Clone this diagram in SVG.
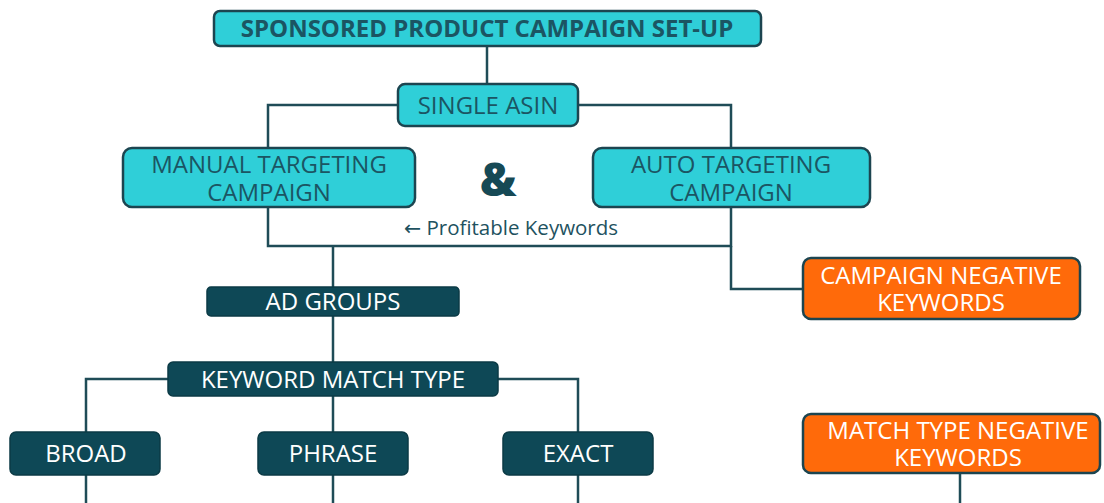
<svg xmlns="http://www.w3.org/2000/svg" width="1104" height="503" viewBox="0 0 1104 503">
<style>
.cy{fill:#2fcfd8;stroke:#1c4550;stroke-width:2.5}
.dk{fill:#0e4856;stroke:#0b3a45;stroke-width:1.5}
.or{fill:#ff6a0a;stroke:#1c4550;stroke-width:2.5}
text{font-family:"Open Sans","Liberation Sans",sans-serif;text-anchor:middle}
.tc{fill:#1b5563;font-size:24px}
.tw{fill:#ffffff;font-size:24px}
.con{fill:none;stroke:#1f4c57;stroke-width:2.5}
</style>
<rect width="1104" height="503" fill="#ffffff"/>
<g id="connectors" class="con">
<path d="M487 46V84"/>
<path d="M398 105H268V148"/>
<path d="M578 105H731V148"/>
<path d="M268 207V246H731V207"/>
<path d="M731 246V289H803"/>
<path d="M333 246V287"/>
<path d="M333 316V362"/>
<path d="M168 379H86V432"/>
<path d="M498 379H578V432"/>
<path d="M333 396V432"/>
<path d="M86 475V503"/>
<path d="M333 475V503"/>
<path d="M578 475V503"/>
<path d="M960 473V503"/>
</g>
<g id="title"><rect class="cy" x="214" y="11" width="547" height="35" rx="6"/><text class="tc" x="487" y="37" font-weight="700" style="font-size:24px">SPONSORED PRODUCT CAMPAIGN SET-UP</text></g>
<g id="single-asin"><rect class="cy" x="398" y="84" width="180" height="42" rx="7"/><text class="tc" x="488" y="114">SINGLE ASIN</text></g>
<g id="manual"><rect class="cy" x="123" y="148" width="292" height="59" rx="9"/><text class="tc"><tspan x="269" y="173">MANUAL TARGETING</tspan><tspan x="269" y="201">CAMPAIGN</tspan></text></g>
<g id="amp"><text x="498" y="196" style="font-size:46px;font-weight:800;fill:#164955">&amp;</text></g>
<g id="auto"><rect class="cy" x="593" y="148" width="277" height="59" rx="9"/><text class="tc"><tspan x="731" y="173">AUTO TARGETING</tspan><tspan x="731" y="201">CAMPAIGN</tspan></text></g>
<g id="profitable"><text x="511" y="235" style="font-size:20.5px;fill:#1e5260"><tspan style="font-family:'DejaVu Sans',sans-serif">←</tspan> Profitable Keywords</text></g>
<g id="campaign-negative"><rect class="or" x="803" y="258" width="277" height="61" rx="8"/><text class="tw"><tspan x="941" y="284">CAMPAIGN NEGATIVE</tspan><tspan x="941" y="311">KEYWORDS</tspan></text></g>
<g id="ad-groups"><rect class="dk" x="207" y="287" width="252" height="29" rx="4"/><text class="tw" x="333" y="310">AD GROUPS</text></g>
<g id="keyword-match-type"><rect class="dk" x="168" y="362" width="330" height="34" rx="5"/><text class="tw" x="333" y="388">KEYWORD MATCH TYPE</text></g>
<g id="broad"><rect class="dk" x="10" y="432" width="150" height="43" rx="6"/><text class="tw" x="86" y="462">BROAD</text></g>
<g id="phrase"><rect class="dk" x="258" y="432" width="150" height="43" rx="6"/><text class="tw" x="333" y="462">PHRASE</text></g>
<g id="exact"><rect class="dk" x="503" y="432" width="150" height="43" rx="6"/><text class="tw" x="578" y="462">EXACT</text></g>
<g id="match-type-negative"><rect class="or" x="803" y="414" width="297" height="59" rx="8"/><text class="tw"><tspan x="958" y="439">MATCH TYPE NEGATIVE</tspan><tspan x="958" y="466">KEYWORDS</tspan></text></g>
</svg>
